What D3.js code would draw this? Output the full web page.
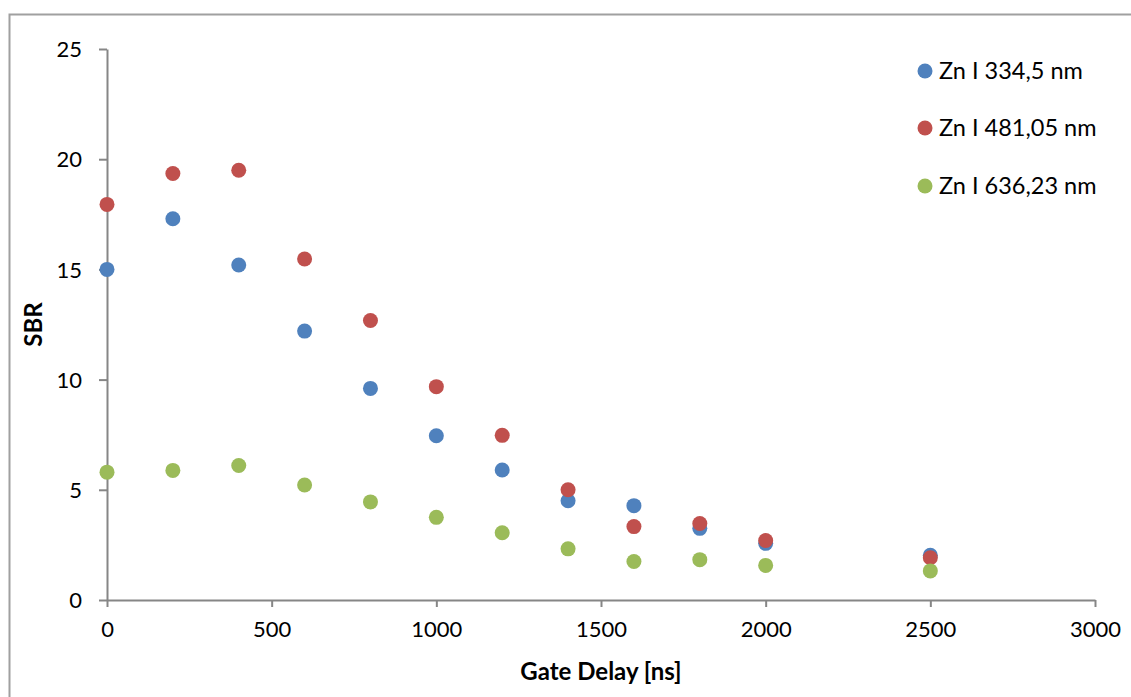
<!DOCTYPE html>
<html>
<head>
<meta charset="utf-8">
<script src="https://cdn.jsdelivr.net/npm/d3@7"></script>
<style>
  html, body { margin: 0; padding: 0; background: #fff; }
  text { font-family: Lato, "Liberation Sans", sans-serif; fill: #000; }
</style>
</head>
<body>
<svg id="chart" width="1131" height="697"></svg>
<script>
const gateDelay = [0, 200, 400, 600, 800, 1000, 1200, 1400, 1600, 1800, 2000, 2500];
const zn334 = [15.0, 17.3, 15.2, 12.2, 9.6, 7.45, 5.9, 4.5, 4.28, 3.25, 2.57, 2.03];
const zn481 = [17.95, 19.35, 19.5, 15.47, 12.68, 9.68, 7.47, 5.0, 3.33, 3.47, 2.7, 1.92];
const zn636 = [5.8, 5.88, 6.1, 5.22, 4.45, 3.75, 3.05, 2.32, 1.75, 1.83, 1.57, 1.32];
const seriesNames = ["Zn I 334,5 nm", "Zn I 481,05 nm", "Zn I 636,23 nm"];
const seriesColors = ["#4F81BD", "#C0504D", "#9BBB59"];
const xTicks = [0, 500, 1000, 1500, 2000, 2500, 3000];
const yTicks = [0, 5, 10, 15, 20, 25];
const xTitle = "Gate Delay [ns]";
const yTitle = "SBR";

const svg = d3.select("#chart");
const axisColor = "#868686";
const fontFam = "Lato, 'Liberation Sans', sans-serif";

// outer chart border
svg.append("rect")
  .attr("x", 9.5).attr("y", 14.5)
  .attr("width", 1140).attr("height", 700)
  .attr("fill", "none").attr("stroke", "#a0a0a0").attr("stroke-width", 2);

const x = d3.scaleLinear().domain([0, 3000]).range([107, 1095]);
const y = d3.scaleLinear().domain([0, 25]).range([600, 49]);

// x axis
const xAxis = svg.append("g").attr("transform", `translate(0,${y(0)})`)
  .call(d3.axisBottom(x).tickValues(xTicks).tickFormat(d3.format("d"))
    .tickSize(7).tickPadding(14).tickSizeOuter(0));
// y axis
const yAxis = svg.append("g").attr("transform", `translate(${x(0)},0)`)
  .call(d3.axisLeft(y).tickValues(yTicks).tickFormat(d3.format("d"))
    .tickSize(8).tickPadding(17).tickSizeOuter(0));

[xAxis, yAxis].forEach(g => {
  g.select(".domain").attr("stroke", axisColor).attr("stroke-width", 2);
  g.selectAll(".tick line").attr("stroke", axisColor).attr("stroke-width", 2);
  g.selectAll(".tick text").style("font-family", fontFam)
    .style("font-size", "22px").attr("fill", "#000");
});
yAxis.selectAll(".tick text").attr("dy", "0.35em");

// axis titles
svg.append("text")
  .attr("x", (x(0) + x(3000)) / 2).attr("y", 680)
  .attr("text-anchor", "middle")
  .style("font-size", "24px").style("font-weight", "bold")
  .text(xTitle);
svg.append("text")
  .attr("transform", `translate(42,${(y(0) + y(25)) / 2}) rotate(-90)`)
  .attr("text-anchor", "middle")
  .style("font-size", "24px").style("font-weight", "bold")
  .text(yTitle);

// points
const allSeries = [zn334, zn481, zn636];
allSeries.forEach((vals, i) => {
  svg.append("g").selectAll("circle")
    .data(vals)
    .join("circle")
    .attr("cx", (d, j) => x(gateDelay[j]))
    .attr("cy", d => y(d))
    .attr("r", 7.5)
    .attr("fill", seriesColors[i]);
});

// legend
const legendY = [71, 128, 186];
seriesNames.forEach((name, i) => {
  svg.append("circle").attr("cx", 925).attr("cy", legendY[i]).attr("r", 7.5)
    .attr("fill", seriesColors[i]);
  svg.append("text").attr("x", 939).attr("y", legendY[i]).attr("dy", "0.35em")
    .style("font-size", "23.5px").text(name);
});
</script>
</body>
</html>
